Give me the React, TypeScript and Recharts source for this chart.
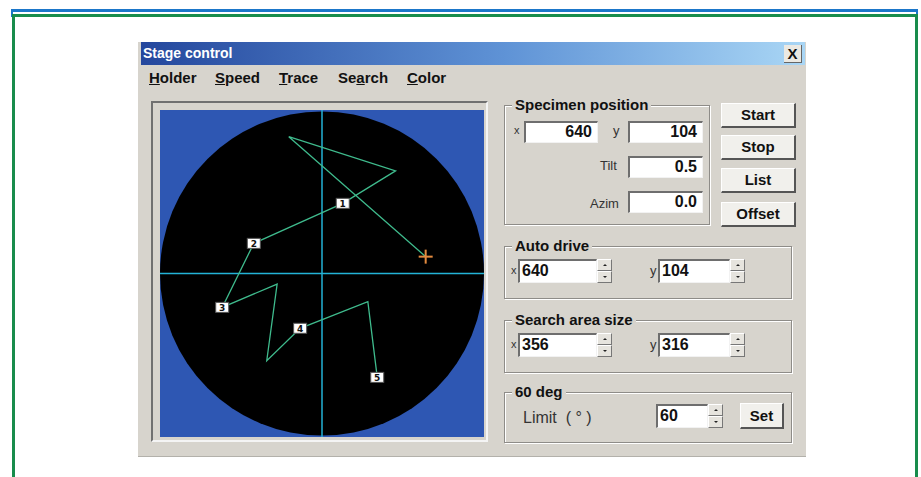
import { ScatterChart, Scatter, XAxis, YAxis, ReferenceDot } from 'recharts'
import type { CSSProperties } from 'react'

// stage trace in stage units (holder radius = 1000), first point = current position
const traceX = [640, -205, 454, 128, -421, -616, -277, -341, -135, 283, 341]
const traceY = [104, 844, 633, 433, 186, -209, -65, -538, -338, -174, -641]
const traceLabels = ['', '', '', '1', '2', '3', '', '', '4', '', '5']
const currentX = [640]
const currentY = [104]

// crosshair through the holder centre
const axisH = [{ x: -1000, y: 0 }, { x: 1000, y: 0 }]
const axisV = [{ x: 0, y: -1009 }, { x: 0, y: 1009 }]

const menuItems = ['Holder', 'Speed', 'Trace', 'Search', 'Color']
const menuUnderline = [0, 0, 0, 2, 0]
const menuLeft = [149, 215, 279, 338, 407]

const buttons = ['Start', 'Stop', 'List', 'Offset']
const buttonTop = [103, 135, 168, 202]

const trace = traceX.map((x, i) => ({ x, y: traceY[i], label: traceLabels[i] }))
const current = currentX.map((x, i) => ({ x, y: currentY[i] }))

const FONT = "'Liberation Sans', Arial, sans-serif"
const BG = '#d7d4cd'

const abs = (left: number, top: number, width: number, height: number): CSSProperties => ({
  position: 'absolute', left, top, width, height, boxSizing: 'border-box',
})

function LabelBox(props: any) {
  const { cx, cy, payload } = props
  if (!payload || !payload.label) return <g />
  return (
    <g>
      <rect x={cx - 6.5} y={cy - 5} width={13} height={10} fill="#fff" stroke="#555" strokeWidth={1} />
      <text x={cx} y={cy + 3.5} textAnchor="middle" fontSize={9} fontWeight="bold" fontFamily="DejaVu Sans" fill="#111">
        {payload.label}
      </text>
    </g>
  )
}

function Cross(props: any) {
  const { cx, cy } = props
  return (
    <g stroke="#e38a3e" strokeWidth={2}>
      <line x1={cx - 7} y1={cy} x2={cx + 7} y2={cy} />
      <line x1={cx} y1={cy - 7} x2={cx} y2={cy + 7} />
    </g>
  )
}

const NoDot = () => <g />

function GroupBox({ l, t, w, h, label }: { l: number; t: number; w: number; h: number; label: string }) {
  return (
    <>
      <div style={{ ...abs(l, t, w, h), border: '1px solid #8e8c88', boxShadow: 'inset 1px 1px 0 #fff, 1px 1px 0 #fff' }} />
      <div style={{ position: 'absolute', left: l + 8, top: t - 9, padding: '0 3px', background: BG, font: `bold 15px ${FONT}`, lineHeight: '17px', color: '#111' }}>
        {label}
      </div>
    </>
  )
}

function TextBox({ l, t, w, h, value, right }: { l: number; t: number; w: number; h: number; value: string; right?: boolean }) {
  return (
    <div style={{
      ...abs(l, t, w, h), background: '#fff', borderTop: '2px solid #6e6e6e', borderLeft: '2px solid #6e6e6e',
      borderBottom: '1px solid #f2f2f2', borderRight: '1px solid #f2f2f2', font: `bold 16px ${FONT}`,
      lineHeight: `${h - 4}px`, textAlign: right ? 'right' : 'left', padding: right ? '0 5px 0 0' : '0 0 0 2px', color: '#111',
    }}>{value}</div>
  )
}

function Spinner({ l, t, h }: { l: number; t: number; h: number }) {
  const half = h / 2
  const part: CSSProperties = { background: '#e6e4de', borderTop: '1px solid #fff', borderLeft: '1px solid #fff', borderBottom: '1px solid #777', borderRight: '1px solid #777', boxSizing: 'border-box', position: 'relative' }
  return (
    <div style={abs(l, t, 15, h)}>
      <div style={{ ...part, height: half }}>
        <div style={{ position: 'absolute', left: 5, top: half / 2 - 2, width: 0, height: 0, borderLeft: '2px solid transparent', borderRight: '2px solid transparent', borderBottom: '2px solid #222' }} />
      </div>
      <div style={{ ...part, height: half }}>
        <div style={{ position: 'absolute', left: 5, top: half / 2 - 2, width: 0, height: 0, borderLeft: '2px solid transparent', borderRight: '2px solid transparent', borderTop: '2px solid #222' }} />
      </div>
    </div>
  )
}

function Btn({ l, t, w, h, label }: { l: number; t: number; w: number; h: number; label: string }) {
  return (
    <div style={{
      ...abs(l, t, w, h), background: '#f1f0ec', borderTop: '1px solid #fff', borderLeft: '1px solid #fff',
      borderBottom: '2px solid #555', borderRight: '2px solid #555', font: `bold 15px ${FONT}`,
      lineHeight: `${h - 3}px`, textAlign: 'center', color: '#111',
    }}>{label}</div>
  )
}

function Small({ l, t, text, size = 12 }: { l: number; t: number; text: string; size?: number }) {
  return <div style={{ position: 'absolute', left: l, top: t, font: `${size}px ${FONT}`, color: '#333', whiteSpace: 'pre' }}>{text}</div>
}

export default function App() {
  return (
    <div style={{ position: 'absolute', left: 0, top: 0, width: 921, height: 477, background: '#fff', overflow: 'hidden', fontFamily: FONT }}>
      {/* outer figure frame */}
      <div style={{ ...abs(11, 9, 907, 8), borderTop: '3px solid #1b76c9', borderLeft: '2px solid #1b76c9', borderRight: '2px solid #1b76c9' }} />
      <div style={{ ...abs(12, 14, 906, 480), border: '3px solid #188c4c' }} />

      {/* dialog */}
      <div style={{ ...abs(138, 42, 668, 415), background: BG, borderBottom: '1px solid #b3b1ab' }} />
      <div style={{ ...abs(141, 42, 664, 23), background: 'linear-gradient(to right, #24479d, #5f93d6 55%, #a9d6f5)' }} />
      <div style={{ position: 'absolute', left: 143, top: 44, font: `bold 14px ${FONT}`, color: '#fff', lineHeight: '18px' }}>Stage control</div>
      <div style={{ ...abs(784, 45, 18, 18), background: '#ebe9e3', borderBottom: '1px solid #666', borderRight: '1px solid #666', font: `bold 15px ${FONT}`, lineHeight: '17px', textAlign: 'center', color: '#111' }}>X</div>

      {menuItems.map((m, i) => (
        <div key={m} style={{ position: 'absolute', left: menuLeft[i], top: 69, font: `bold 15px ${FONT}`, color: '#111', lineHeight: '18px' }}>
          {m.slice(0, menuUnderline[i])}
          <span style={{ textDecoration: 'underline' }}>{m[menuUnderline[i]]}</span>
          {m.slice(menuUnderline[i] + 1)}
        </div>
      ))}

      {/* plot frame */}
      <div style={{ ...abs(151, 101, 337, 341), borderTop: '2px solid #707070', borderLeft: '2px solid #707070', borderBottom: '2px solid #f4f4f4', borderRight: '2px solid #f4f4f4' }} />
      <div style={{ ...abs(160, 110, 324, 327), background: '#2e57b3' }}>
        <ScatterChart width={324} height={327} margin={{ top: 0, right: 0, bottom: 0, left: 0 }}>
          <XAxis type="number" dataKey="x" domain={[-1000, 1000]} hide />
          <YAxis type="number" dataKey="y" domain={[-1009, 1009]} hide />
          <ReferenceDot x={0} y={0} r={162} fill="#000" stroke="none" />
          <Scatter data={axisH} line={{ stroke: '#23b2d6', strokeWidth: 1.5 }} shape={NoDot} isAnimationActive={false} />
          <Scatter data={axisV} line={{ stroke: '#23b2d6', strokeWidth: 1.5 }} shape={NoDot} isAnimationActive={false} />
          <Scatter data={trace} line={{ stroke: '#3fbb8d', strokeWidth: 1.3 }} shape={LabelBox} isAnimationActive={false} />
          <Scatter data={current} shape={Cross} isAnimationActive={false} />
        </ScatterChart>
      </div>

      {/* specimen position */}
      <GroupBox l={504} t={105} w={206} h={120} label="Specimen position" />
      <Small l={514} t={124} text="x" size={11} />
      <TextBox l={524} t={121} w={74} h={22} value="640" right />
      <Small l={613} t={123} text="y" size={13} />
      <TextBox l={628} t={121} w={75} h={22} value="104" right />
      <Small l={600} t={158} text="Tilt" size={13} />
      <TextBox l={628} t={156} w={75} h={22} value="0.5" right />
      <Small l={590} t={196} text="Azim" size={13} />
      <TextBox l={628} t={191} w={75} h={22} value="0.0" right />

      {buttons.map((b, i) => (
        <Btn key={b} l={721} t={buttonTop[i]} w={75} h={25} label={b} />
      ))}

      {/* auto drive */}
      <GroupBox l={504} t={246} w={288} h={53} label="Auto drive" />
      <Small l={511} t={264} text="x" size={11} />
      <TextBox l={518} t={259} w={79} h={24} value="640" />
      <Spinner l={597} t={259} h={24} />
      <Small l={650} t={263} text="y" size={13} />
      <TextBox l={658} t={259} w={72} h={24} value="104" />
      <Spinner l={730} t={259} h={24} />

      {/* search area size */}
      <GroupBox l={504} t={320} w={288} h={53} label="Search area size" />
      <Small l={511} t={338} text="x" size={11} />
      <TextBox l={518} t={333} w={79} h={24} value="356" />
      <Spinner l={597} t={333} h={24} />
      <Small l={650} t={337} text="y" size={13} />
      <TextBox l={658} t={333} w={72} h={24} value="316" />
      <Spinner l={730} t={333} h={24} />

      {/* 60 deg */}
      <GroupBox l={504} t={392} w={288} h={51} label="60 deg" />
      <Small l={523} t={409} text="Limit  ( ° )" size={16} />
      <TextBox l={656} t={404} w={52} h={24} value="60" />
      <Spinner l={708} t={404} h={24} />
      <Btn l={740} t={403} w={44} h={26} label="Set" />
    </div>
  )
}
